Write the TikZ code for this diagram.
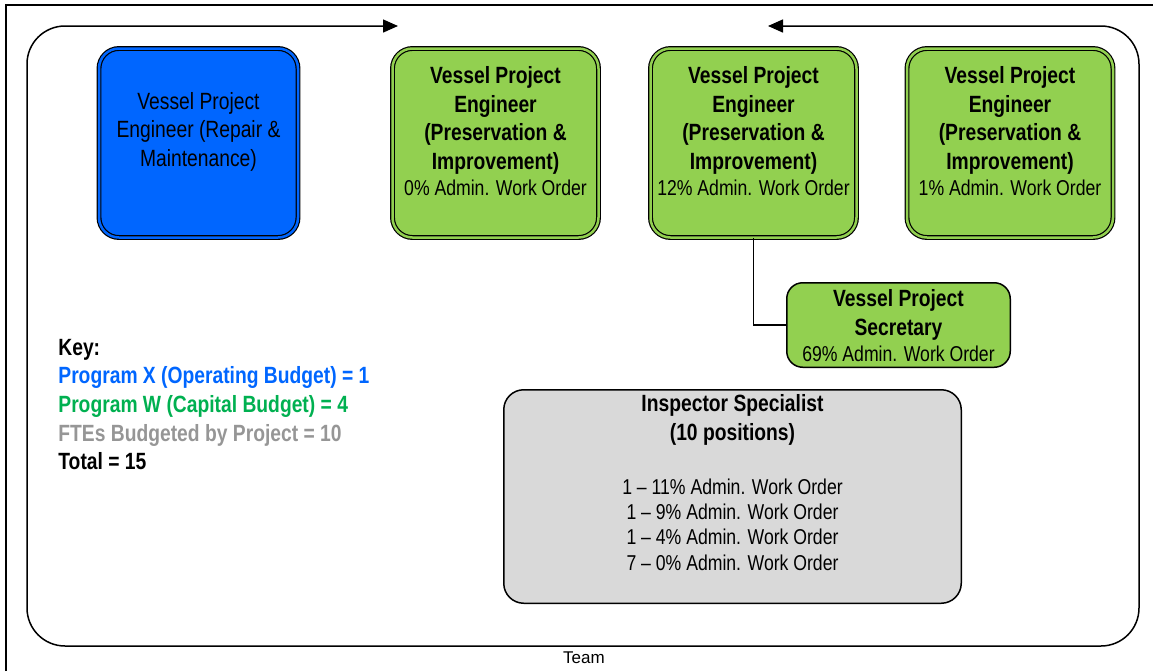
\documentclass[tikz,border=0pt]{standalone}
\usepackage{fontspec}
\setmainfont{Liberation Sans}[FakeStretch=0.82]
\newfontfamily\teamfont{Liberation Sans}
\usetikzlibrary{arrows.meta}
\definecolor{progxblue}{RGB}{0,102,255}
\definecolor{progwgreen}{RGB}{146,208,80}
\definecolor{keygreen}{RGB}{0,176,80}
\definecolor{keygray}{RGB}{150,150,150}
\definecolor{inspgray}{RGB}{217,217,217}
% box body: height, width, top gap, lines
\newcommand{\boxbody}[4]{\parbox[c][#1][t]{#2}{\centering\vspace*{#3}#4\par}}
\newcommand{\pctline}[1]{{\mdseries\fontsize{10.75}{12.75}\selectfont #1}}
\tikzset{
  bigfont/.style={font=\fontsize{11.75}{14.25}\selectfont},
  engbox/.style={draw=black, line width=0.6pt, double distance=1.25pt,
    rounded corners=10pt, inner sep=0pt, bigfont},
  progxbox/.style={engbox, fill=progxblue, double=progxblue},
  progwbox/.style={engbox, fill=progwgreen, double=progwgreen},
  secbox/.style={draw=black, line width=0.75pt, fill=progwgreen,
    rounded corners=8pt, inner sep=0pt, bigfont},
  inspbox/.style={draw=black, line width=0.75pt, fill=inspgray,
    rounded corners=10pt, inner sep=0pt, bigfont},
  orgline/.style={draw=black, line width=0.75pt},
  teamframe/.style={line width=0.75pt, rounded corners=19pt,
    >={Triangle[length=7.5pt,width=6.5pt]}, <->}
}
\begin{document}
\begin{tikzpicture}[x=0.5pt, y=-0.5pt]
  \useasboundingbox (0,0) rectangle (1153,671);
  \draw[line width=1.25pt] (6,671) -- (6,5) -- (1153,5);

  % team frame
  \coordinate (teamtipL) at (398,26);
  \coordinate (teamtipR) at (768,26);
  \draw[teamframe] (teamtipL) -- (27,26) -- (27,646) -- (1139,646) -- (1139,26) -- (teamtipR);
  \node[font=\teamfont\fontsize{8.5}{10}\selectfont, inner sep=0pt] (teamlbl) at (584,658) {Team};

  % engineers
  \node[progxbox] (pe0) at (198.5,143) {\boxbody{94.5pt}{99.5pt}{21.9pt}{Vessel Project\\ Engineer (Repair \&\\ Maintenance)}};
  \node[progwbox] (pe1) at (495.5,143) {\boxbody{94.5pt}{103pt}{9pt}{\bfseries Vessel Project\\ Engineer\\ (Preservation \&\\ Improvement)\\[-1.1pt] \pctline{0\% Admin. Work Order}}};
  \node[progwbox] (pe2) at (753.5,143) {\boxbody{94.5pt}{103pt}{9pt}{\bfseries Vessel Project\\ Engineer\\ (Preservation \&\\ Improvement)\\[-1.1pt] \pctline{12\% Admin. Work Order}}};
  \node[progwbox] (pe3) at (1010,143) {\boxbody{94.5pt}{103pt}{9pt}{\bfseries Vessel Project\\ Engineer\\ (Preservation \&\\ Improvement)\\[-1.1pt] \pctline{1\% Admin. Work Order}}};

  % secretary
  \node[secbox] (sec) at (898.5,325) {\boxbody{42.25pt}{111.75pt}{3.4pt}{\bfseries Vessel Project\\ Secretary\\[-1.1pt] \pctline{69\% Admin. Work Order}}};
  \draw[orgline] (pe2.south) |- (sec.west);

  % inspectors
  \node[inspbox] (insp) at (732.5,496.5) {\boxbody{106.75pt}{228.75pt}{2.4pt}{\bfseries Inspector Specialist\\ (10 positions)\par
    \vspace{14.5pt}\mdseries\fontsize{10.75}{12.65}\selectfont
    1 – 11\% Admin. Work Order\\ 1 – 9\% Admin. Work Order\\ 1 – 4\% Admin. Work Order\\ 7 – 0\% Admin. Work Order}};

  % key
  \node[anchor=north west, inner sep=0pt, align=left, font=\fontsize{11.75}{14.35}\selectfont\bfseries] (key) at (58,338.6)
    {Key:\\ \textcolor{progxblue}{Program X (Operating Budget) = 1}\\ \textcolor{keygreen}{Program W (Capital Budget) = 4}\\
     \textcolor{keygray}{FTEs Budgeted by Project = 10}\\ Total = 15};
\end{tikzpicture}
\end{document}
